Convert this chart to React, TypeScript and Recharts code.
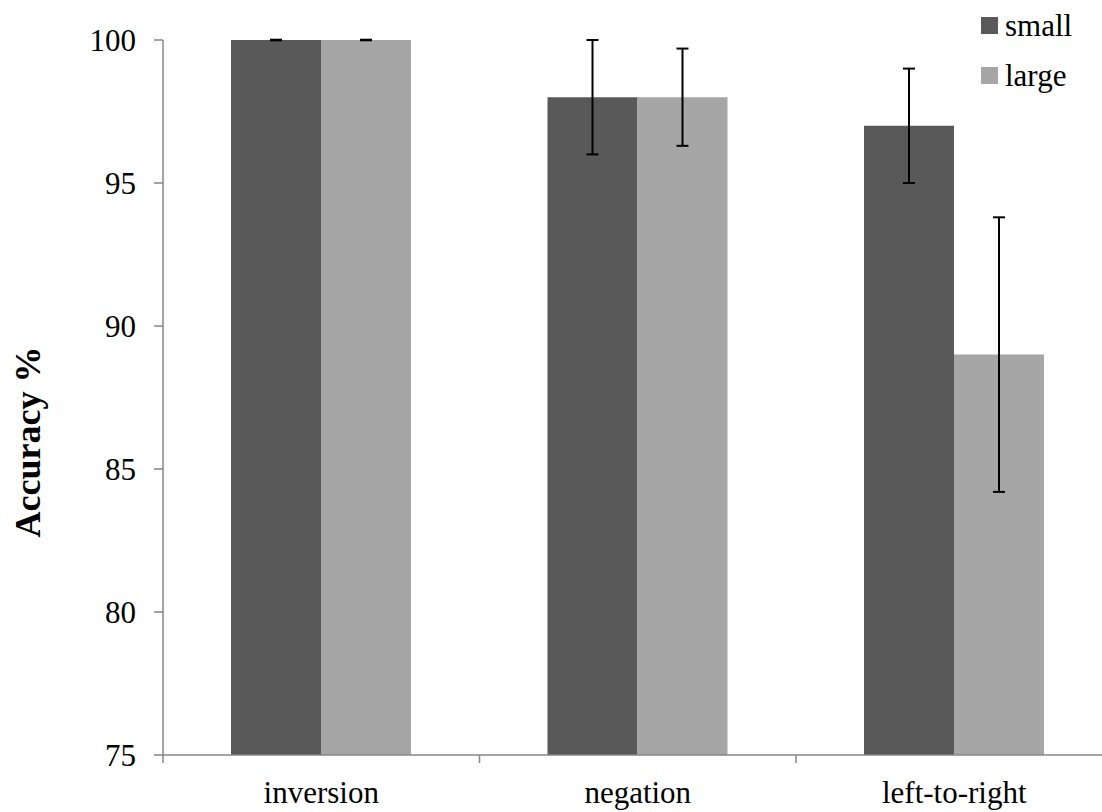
import React from 'react';
import { BarChart, Bar, XAxis, YAxis, ErrorBar } from 'recharts';

const categories = ['inversion', 'negation', 'left-to-right'];
const smallValues = [100, 98, 97];
const smallErrors = [0.01, 2, 2];
const largeValues = [100, 98, 89];
const largeErrors = [0.01, 1.7, 4.8];
const yTicks = [75, 80, 85, 90, 95, 100];
const seriesNames = ['small', 'large'];

const FONT = '"Liberation Serif", "Times New Roman", serif';
const AXIS_GRAY = '#868686';
const SMALL_COLOR = '#595959';
const LARGE_COLOR = '#a6a6a6';
const seriesColors = [SMALL_COLOR, LARGE_COLOR];

const data = categories.map((name, i) => ({
  name,
  small: smallValues[i],
  smallErr: smallErrors[i],
  large: largeValues[i],
  largeErr: largeErrors[i]
}));

// x ticks sit on the category boundaries, labels in the middle
const CategoryTick = (props: any) => {
  const { x, y, payload } = props;
  const offset = payload.offset || 0;
  return (
    <g>
      <line x1={x - offset} y1={y - 8} x2={x - offset} y2={y} stroke={AXIS_GRAY} strokeWidth={1.5} />
      <text x={x} y={y + 40} textAnchor="middle" fontFamily={FONT} fontSize={31} fill="#000">
        {payload.value}
      </text>
    </g>
  );
};

const YLabel = () => (
  <text
    x={40}
    y={442}
    transform="rotate(-90, 40, 442)"
    textAnchor="middle"
    fontFamily={FONT}
    fontSize={36}
    fontWeight="bold"
    fill="#000"
  >
    Accuracy %
  </text>
);

// plain overlay legend so the plot area keeps its full height
const LegendBox = () => (
  <div style={{ position: 'absolute', left: 981, top: 0, fontFamily: FONT, fontSize: 31, color: '#000' }}>
    {seriesNames.map((label, i) => (
      <div key={label} style={{ display: 'flex', alignItems: 'center', height: 50, lineHeight: '31px' }}>
        <span style={{ display: 'inline-block', width: 17, height: 17, background: seriesColors[i], marginRight: 7 }} />
        <span>{label}</span>
      </div>
    ))}
  </div>
);

export default function App() {
  return (
    <div style={{ position: 'absolute', left: 0, top: 0, width: 1102, height: 812, overflow: 'hidden', background: '#fff' }}>
      <BarChart
        width={1120}
        height={812}
        data={data}
        margin={{ top: 40, right: 7.5, bottom: 0, left: 0 }}
        barGap={0}
        barCategoryGap={68}
      >
        <XAxis
          dataKey="name"
          height={57}
          stroke={AXIS_GRAY}
          strokeWidth={1.5}
          tickLine={false}
          tickSize={8}
          tickMargin={0}
          tick={<CategoryTick />}
          interval={0}
        />
        <YAxis
          width={163}
          domain={[75, 100]}
          ticks={yTicks}
          allowDataOverflow
          stroke={AXIS_GRAY}
          strokeWidth={1.5}
          tickSize={9}
          tickMargin={18}
          tick={{ fill: '#000', fontFamily: FONT, fontSize: 31 }}
          label={<YLabel />}
        />
        <Bar dataKey="small" fill={SMALL_COLOR} isAnimationActive={false}>
          <ErrorBar dataKey="smallErr" width={6} stroke="#000" strokeWidth={2} />
        </Bar>
        <Bar dataKey="large" fill={LARGE_COLOR} isAnimationActive={false}>
          <ErrorBar dataKey="largeErr" width={6} stroke="#000" strokeWidth={2} />
        </Bar>
      </BarChart>
      <LegendBox />
    </div>
  );
}
